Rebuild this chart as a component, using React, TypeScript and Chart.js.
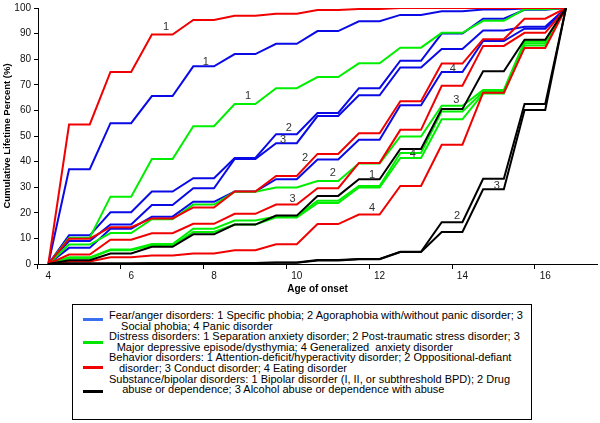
import React, { useEffect, useRef } from 'react';
import { Chart, registerables } from 'chart.js';

Chart.register(...registerables);

// Categories: half-year steps of age of onset
const ages = ['4', '4.5', '5', '5.5', '6', '6.5', '7', '7.5', '8', '8.5', '9', '9.5', '10', '10.5', '11', '11.5', '12', '12.5', '13', '13.5', '14', '14.5', '15', '15.5', '16', '16.5', '17'];
const tickAges = ['4', '6', '8', '10', '12', '14', '16'];

// Fear/anger disorders (blue)
const fear1 = [0, 37, 37, 55, 55, 65.6, 65.6, 77.2, 77.2, 82, 82, 86, 86, 91, 91, 94.8, 94.8, 97.3, 97.3, 98.7, 98.7, 99.4, 99.4, 99.8, 99.8, 100, null];
const fear2 = [0, 11.2, 11.2, 20.2, 20.2, 28.3, 28.3, 33.5, 33.5, 41.4, 41.4, 50.7, 50.7, 59, 59, 68.7, 68.7, 79.4, 79.4, 90, 90, 95.8, 95.8, 99.3, 99.3, 100, null];
const fear3 = [0, 9, 9, 15.4, 15.4, 23, 23, 29.6, 29.6, 41, 41, 47.2, 47.2, 57.8, 57.8, 65.9, 65.9, 76.8, 76.8, 84, 84, 91.2, 91.2, 92.7, 92.7, 100, null];
const fear4 = [0, 6.3, 6.3, 13.8, 13.8, 18.5, 18.5, 24.3, 24.3, 28.3, 28.3, 33.1, 33.1, 40.8, 40.8, 48.5, 48.5, 62, 62, 75, 75, 87.1, 87.1, 91.9, 91.9, 100, null];
// Distress disorders (green)
const distress1 = [0, 10.3, 10.3, 26.3, 26.3, 41, 41, 53.8, 53.8, 62.5, 62.5, 68.7, 68.7, 73, 73, 78.4, 78.4, 84.5, 84.5, 90.3, 90.3, 95, 95, 99.5, 99.5, 100, null];
const distress2 = [0, 7.6, 7.6, 12.1, 12.1, 17.5, 17.5, 23.2, 23.2, 28.2, 28.2, 29.9, 29.9, 32.4, 32.4, 39.3, 39.3, 49.8, 49.8, 61.8, 61.8, 68, 68, 87, 87, 100, null];
const distress3 = [0, 2.6, 2.6, 5.7, 5.7, 7.8, 7.8, 13.8, 13.8, 17, 17, 18.6, 18.6, 24.7, 24.7, 30.5, 30.5, 43.4, 43.4, 59.6, 59.6, 67.3, 67.3, 86.2, 86.2, 100, null];
const distress4 = [0, 2.2, 2.2, 5.4, 5.4, 7.3, 7.3, 12.5, 12.5, 15.4, 15.4, 18.2, 18.2, 23.8, 23.8, 29.9, 29.9, 41.4, 41.4, 56.5, 56.5, 66.6, 66.6, 85.4, 85.4, 100, null];
// Behavior disorders (red)
const behavior1 = [0, 54.5, 54.5, 75, 75, 89.6, 89.6, 95.3, 95.3, 97, 97, 97.8, 97.8, 99.2, 99.2, 99.6, 99.6, 100, 100, 100, 100, 100, 100, 100, 100, 100, null];
const behavior2 = [0, 9.9, 9.9, 14.4, 14.4, 17.8, 17.8, 22.1, 22.1, 28.3, 28.3, 34.4, 34.4, 43, 43, 51.1, 51.1, 63.6, 63.6, 78.3, 78.3, 87.8, 87.8, 95.8, 95.8, 100, null];
const behavior3 = [0, 3.7, 3.7, 9.5, 9.5, 12, 12, 15.7, 15.7, 19.6, 19.6, 23.2, 23.2, 29.6, 29.6, 39.5, 39.5, 52.4, 52.4, 69.6, 69.6, 85.2, 85.2, 90.3, 90.3, 100, null];
const behavior4 = [0, 1, 1, 2.6, 2.6, 3.3, 3.3, 4.1, 4.1, 5.4, 5.4, 7.7, 7.7, 15.6, 15.6, 19.3, 19.3, 30.5, 30.5, 46.6, 46.6, 66.9, 66.9, 84.4, 84.4, 100, null];
// Substance/bipolar disorders (black)
const substance1 = [0, 1.5, 1.5, 4.1, 4.1, 6.7, 6.7, 11.6, 11.6, 15.4, 15.4, 18.9, 18.9, 26.6, 26.6, 33.1, 33.1, 44.9, 44.9, 60.5, 60.5, 75.3, 75.3, 87.6, 87.6, 100, null];
const substance2 = [0, 0.2, 0.2, 0.2, 0.2, 0.3, 0.3, 0.3, 0.3, 0.4, 0.4, 0.6, 0.6, 1.6, 1.6, 2, 2, 4.8, 4.8, 16.3, 16.3, 33.3, 33.3, 62.5, 62.5, 100, null];
const substance3 = [0, 0.2, 0.2, 0.2, 0.2, 0.3, 0.3, 0.3, 0.3, 0.4, 0.4, 0.5, 0.5, 1.4, 1.4, 1.9, 1.9, 4.7, 4.7, 12.5, 12.5, 29.2, 29.2, 60.2, 60.2, 100, null];

// In-chart line number labels: text, age, percent
const labelTexts = ['1', '1', '1', '2', '3', '2', '2', '3', '1', '4', '4', '4', '3', '2', '3'];
const labelAges = [6.84, 7.8, 8.82, 9.81, 9.67, 10.2, 10.87, 9.9, 11.82, 11.82, 12.8, 13.77, 13.85, 13.87, 14.83];
const labelValues = [92.7, 78.8, 65.6, 53.3, 48.6, 41.3, 35.5, 25.5, 34.7, 22, 42.9, 76.1, 64.1, 18.9, 30.5];

// Legend content
const legendColors = ['#3a6ff0', '#00e600', '#f00000', '#000000'];
const legendLine1 = [
  'Fear/anger disorders: 1 Specific phobia; 2 Agoraphobia with/without panic disorder; 3',
  'Distress disorders: 1 Separation anxiety disorder; 2 Post-traumatic stress disorder; 3',
  'Behavior disorders: 1 Attention-deficit/hyperactivity disorder; 2 Oppositional-defiant',
  'Substance/bipolar disorders: 1 Bipolar disorder (I, II, or subthreshold BPD); 2 Drug',
];
const legendLine2 = [
  'Social phobia; 4 Panic disorder',
  'Major depressive episode/dysthymia; 4 Generalized\u00a0 anxiety disorder',
  'disorder; 3 Conduct disorder; 4 Eating disorder',
  'abuse or dependence; 3 Alcohol abuse or dependence with abuse',
];
const legendIndent = [11, 7, 9, 12];
const legendMarkerTop = [13, 36, 61, 85];

const BLUE = '#0a0ae6';
const GREEN = '#00ee00';
const RED = '#f00000';
const BLACK = '#000000';
const FONT = '"Liberation Sans", Arial, sans-serif';

const seriesList = [
  { data: fear1, color: BLUE, order: 3 },
  { data: fear2, color: BLUE, order: 3 },
  { data: fear3, color: BLUE, order: 3 },
  { data: fear4, color: BLUE, order: 3 },
  { data: distress1, color: GREEN, order: 2 },
  { data: distress2, color: GREEN, order: 2 },
  { data: distress3, color: GREEN, order: 2 },
  { data: distress4, color: GREEN, order: 2 },
  { data: behavior1, color: RED, order: 1 },
  { data: behavior2, color: RED, order: 1 },
  { data: behavior3, color: RED, order: 1 },
  { data: behavior4, color: RED, order: 1 },
  { data: substance1, color: BLACK, order: 0 },
  { data: substance2, color: BLACK, order: 0 },
  { data: substance3, color: BLACK, order: 0 },
];

const lineLabelPlugin = {
  id: 'lineLabels',
  afterDatasetsDraw(chart: any) {
    const { ctx, scales } = chart;
    const x = scales.x;
    const y = scales.y;
    ctx.save();
    ctx.font = '11px ' + FONT;
    ctx.fillStyle = '#333';
    ctx.textAlign = 'center';
    ctx.textBaseline = 'middle';
    labelTexts.forEach((t, i) => {
      const px = x.getPixelForValue((labelAges[i] - 4) * 2);
      const py = y.getPixelForValue(labelValues[i]);
      ctx.fillText(t, px, py);
    });
    ctx.restore();
  },
};

export default function App() {
  const canvasRef = useRef<HTMLCanvasElement | null>(null);

  useEffect(() => {
    if (!canvasRef.current) return;
    const chart = new Chart(canvasRef.current, {
      type: 'line',
      data: {
        labels: ages,
        datasets: seriesList.map((s) => ({
          data: s.data,
          borderColor: s.color,
          backgroundColor: s.color,
          borderWidth: 2,
          pointRadius: 0,
          pointHoverRadius: 0,
          tension: 0,
          fill: false,
          order: s.order,
        })),
      },
      options: {
        responsive: false,
        animation: false,
        layout: { padding: { top: 5, right: 3, left: 0, bottom: 0 } },
        plugins: {
          legend: { display: false },
          tooltip: { enabled: false },
        },
        scales: {
          x: {
            type: 'category',
            offset: true,
            afterFit: (scale: any) => {
              scale.height = 40;
            },
            grid: {
              offset: true,
              drawOnChartArea: false,
              drawTicks: true,
              tickLength: 5,
              tickColor: (ctx: any) => (tickAges.includes(ages[ctx.index]) ? '#000' : 'rgba(0,0,0,0)'),
            },
            border: { display: true, color: '#000', width: 1 },
            ticks: {
              autoSkip: false,
              maxRotation: 0,
              padding: 2,
              color: '#111',
              font: { family: FONT, size: 10, lineHeight: 1 },
              callback: (_v: any, i: number) => (tickAges.includes(ages[i]) ? ages[i] : ''),
            },
            title: {
              display: true,
              text: 'Age of onset',
              color: '#000',
              font: { family: FONT, size: 10, weight: 'bold', lineHeight: 1.2 },
              padding: { top: 0, bottom: 9 },
            },
          },
          y: {
            min: 0,
            max: 100,
            afterFit: (scale: any) => {
              scale.width = 38;
            },
            grid: {
              drawOnChartArea: false,
              drawTicks: true,
              tickLength: 4,
              tickColor: '#000',
            },
            border: { display: true, color: '#000', width: 1 },
            ticks: {
              stepSize: 10,
              padding: 3,
              color: '#111',
              font: { family: FONT, size: 10, lineHeight: 1 },
            },
            title: {
              display: true,
              text: 'Cumulative Lifetime Percent (%)',
              color: '#000',
              font: { family: FONT, size: 9.5, weight: 'bold', lineHeight: 1.2 },
              padding: { top: 2, bottom: 0 },
            },
          },
        },
      },
      plugins: [lineLabelPlugin],
    });
    return () => chart.destroy();
  }, []);

  return (
    <div style={{ position: 'fixed', left: 0, top: 0, width: 600, height: 423, background: '#fff', overflow: 'hidden' }}>
      <canvas ref={canvasRef} width={600} height={304} style={{ position: 'absolute', left: 0, top: 0, width: 600, height: 304 }} />
      <div
        style={{
          position: 'absolute',
          left: 72,
          top: 304,
          width: 460,
          height: 116,
          boxSizing: 'border-box',
          border: '1px solid #000',
          fontFamily: FONT,
          fontSize: 11,
          color: '#000',
        }}
      >
        {legendLine1.map((t, i) => (
          <React.Fragment key={i}>
            <div
              style={{
                position: 'absolute',
                left: 10,
                top: legendMarkerTop[i],
                width: 20,
                height: 3,
                background: legendColors[i],
              }}
            />
            <div
              style={{
                position: 'absolute',
                left: 36,
                top: 5 + i * 21.2,
                lineHeight: '10.6px',
                whiteSpace: 'nowrap',
              }}
            >
              {t}
            </div>
            <div
              style={{
                position: 'absolute',
                left: 36 + legendIndent[i] * 1.1,
                top: 5 + i * 21.2 + 10.6,
                lineHeight: '10.6px',
                whiteSpace: 'nowrap',
              }}
            >
              {legendLine2[i]}
            </div>
          </React.Fragment>
        ))}
      </div>
    </div>
  );
}
